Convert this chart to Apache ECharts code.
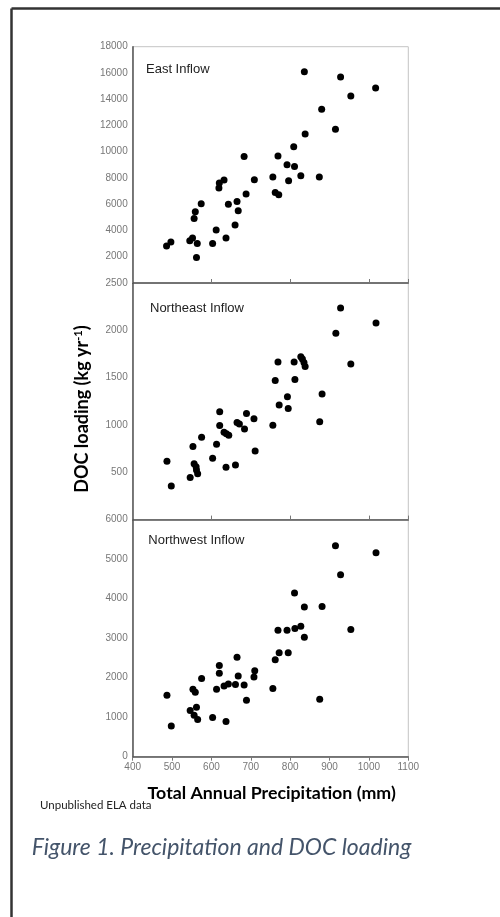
<!DOCTYPE html>
<html>
<head>
<meta charset="utf-8">
<script src="https://cdn.jsdelivr.net/npm/echarts@6/dist/echarts.min.js"></script>
<style>
html,body{margin:0;padding:0;background:#fff;}
#c{width:500px;height:917px;}
</style>
</head>
<body>
<div id="c"></div>
<script>
// ---- Data ----
const panelTitles = ['East Inflow', 'Northeast Inflow', 'Northwest Inflow'];

const eastX = [486,497,545,552,564,562,556,559,574,603,612,619,620,632,637,643,665,668,660,683,688,709,756,762,771,769,792,796,809,811,827,836,838,874,928,1017,954,880,915];
const eastY = [2810,3120,3220,3420,3010,1950,4920,5430,6040,3010,4030,7230,7610,7840,3420,5990,6210,5500,4410,9640,6770,7870,8070,6900,6720,9670,9010,7790,10380,8880,8170,16100,11350,8070,15690,14850,14240,13230,11710];

const northeastX = [487,498,546,553,556,561,562,565,575,603,613,621,621,632,638,644,637,661,665,671,684,689,708,711,756,762,769,772,793,795,810,812,827,831,835,838,928,1018,916,954,881,875];
const northeastY = [616,354,446,772,591,559,524,485,871,648,797,1140,995,924,906,892,552,577,1027,1009,956,1122,1066,726,998,1469,1664,1211,1299,1175,1664,1480,1721,1696,1661,1618,2237,2078,1968,1643,1328,1034];

const northwestX = [487,498,546,553,559,562,556,565,575,603,613,620,620,632,643,637,661,665,668,683,689,710,708,756,762,772,769,792,795,812,827,836,811,836,915,1018,928,881,954,875];
const northwestY = [1555,778,1167,1707,1631,1251,1048,939,1978,989,1707,2307,2113,1792,1842,888,1826,2518,2045,1817,1429,2172,2020,1724,2451,2628,3202,3202,2628,3244,3304,3025,4141,3786,5339,5162,4604,3801,3218,1454];

const xTicks = [400,500,600,700,800,900,1000,1100];
const yMax = [18000, 2500, 6000];
const yInterval = [2000, 500, 1000];

const xTitle = 'Total Annual Precipitation (mm)';
const yTitle = 'DOC loading (kg yr';
const sourceNote = 'Unpublished ELA data';
const caption = 'Figure 1. Precipitation and DOC loading';

// ---- Chart ----
const chart = echarts.init(document.getElementById('c'), null, {renderer:'canvas'});
const plotLeft = 132.7, plotW = 275.6;
const tops = [46.7, 283, 519.6];
const heights = [236.3, 236.6, 237.1];
const seriesXY = [[eastX,eastY],[northeastX,northeastY],[northwestX,northwestY]];
const plain = v => String(v);

const grids = [], xAxes = [], yAxes = [], series = [];
for (let i=0;i<3;i++){
  grids.push({left:plotLeft, top:tops[i], width:plotW, height:heights[i], show:true, borderColor:'#c4c4c4', borderWidth:1, backgroundColor:'transparent'});
  const last = i===2;
  xAxes.push({
    type:'value', gridIndex:i, min:xTicks[0], max:xTicks[xTicks.length-1],
    interval: last ? 100 : 200,
    axisLine:{show:true, onZero:false, lineStyle:{color:'#555', width:1.5}},
    axisTick:{show:true, inside:!last, length:4, lineStyle:{color:'#777', width:1}},
    axisLabel:{show:last, color:'#777', fontSize:10, fontFamily:'Liberation Sans, Arial', margin:6, formatter:plain},
    splitLine:{show:false}
  });
  yAxes.push({
    type:'value', gridIndex:i, min:0, max:yMax[i], interval:yInterval[i],
    axisLine:{show:true, onZero:false, lineStyle:{color:'#555', width:1.5}},
    axisTick:{show:false},
    axisLabel:{show:true, showMinLabel: last, color:'#777', fontSize:10, fontFamily:'Liberation Sans, Arial', margin:5, formatter:plain},
    splitLine:{show:false}
  });
  const d = seriesXY[i][0].map((x,k)=>[x, seriesXY[i][1][k]]);
  series.push({type:'scatter', xAxisIndex:i, yAxisIndex:i, data:d, symbol:'circle', symbolSize:7, itemStyle:{color:'#000', opacity:1}, silent:true});
}

const titleY = [69, 308.3, 540];
const titleX = [146, 150, 148.3];
const graphics = [
  {type:'line', shape:{x1:11.5, y1:8.5, x2:500, y2:8.5}, style:{stroke:'#333', lineWidth:2.5}},
  {type:'line', shape:{x1:11.5, y1:8.5, x2:11.5, y2:917}, style:{stroke:'#333', lineWidth:2.5}},
];
for (let i=0;i<3;i++){
  graphics.push({type:'text', x:titleX[i], y:titleY[i], style:{text:panelTitles[i], fill:'#222', font:'13px "Liberation Sans", Arial', textVerticalAlign:'middle', textAlign:'left'}});
}
graphics.push({type:'text', x:81.7, y:409, rotation:Math.PI/2, style:{
  text: yTitle + '{sup|-1}' + ')', fill:'#000', font:'bold 18px Lato', textAlign:'center', textVerticalAlign:'middle',
  rich:{sup:{font:'bold 11px Lato', fill:'#000', verticalAlign:'top', padding:[0,0,7,0]}}
}});
graphics.push({type:'text', x:271.7, y:793.3, style:{text:xTitle, fill:'#000', font:'bold 17.8px Lato', textAlign:'center', textVerticalAlign:'middle'}});
graphics.push({type:'text', x:40, y:805, style:{text:sourceNote, fill:'#222', font:'11.5px Lato', textAlign:'left', textVerticalAlign:'middle'}});
graphics.push({type:'text', x:31.7, y:847.7, style:{text:caption, fill:'#44546A', font:'italic 23px Lato', textAlign:'left', textVerticalAlign:'middle'}});

chart.setOption({
  animation:false,
  grid:grids, xAxis:xAxes, yAxis:yAxes, series:series,
  graphic:graphics
});
</script>
</body>
</html>
